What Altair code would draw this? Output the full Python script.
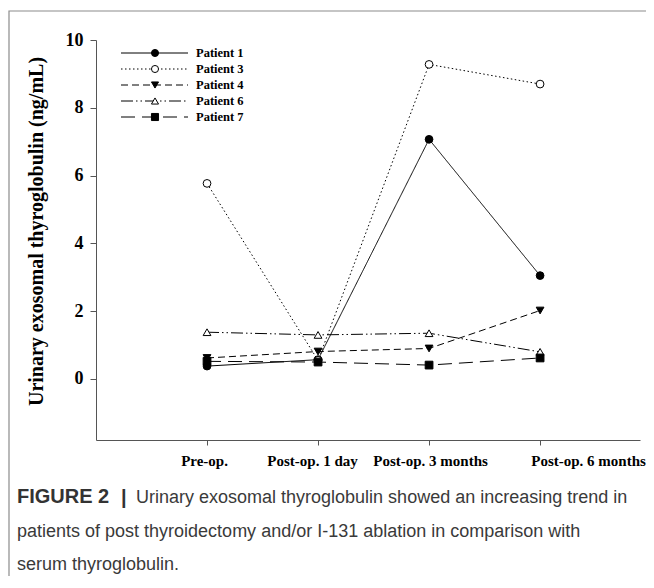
import json
import altair as alt
import pandas as pd

stages = ["Pre-op.", "Post-op. 1 day", "Post-op. 3 months", "Post-op. 6 months"]
stage_pos = [1, 2, 3, 4]
patients = ["Patient 1", "Patient 3", "Patient 4", "Patient 6", "Patient 7"]
p1 = [0.38, 0.57, 7.07, 3.05]
p3 = [5.77, 0.55, 9.28, 8.70]
p4 = [0.62, 0.81, 0.90, 2.02]
p6 = [1.38, 1.30, 1.35, 0.80]
p7 = [0.52, 0.50, 0.41, 0.62]
series = [p1, p3, p4, p6, p7]

dashes = [[1, 0], [1.5, 2.5], [7, 4], [12, 3, 1.5, 3, 1.5, 3], [14, 7]]
shapes = ["circle", "circle", "triangle-down", "triangle-up", "square"]
fills = ["black", "white", "black", "white", "black"]

caption_bold = "FIGURE 2"
caption_bar = "|"
caption_lines = [
    "Urinary exosomal thyroglobulin showed an increasing trend in",
    "patients of post thyroidectomy and/or I-131 ablation in comparison with",
    "serum thyroglobulin.",
]

rows = []
for name, vals in zip(patients, series):
    for pos, v in zip(stage_pos, vals):
        rows.append({"patient": name, "stage": pos, "value": v})
df = pd.DataFrame(rows)
df_leg = pd.DataFrame({"patient": patients, "row": list(range(len(patients)))})

label_expr = json.dumps(stages) + "[datum.value - 1]"
label_shift = {
    "condition": [
        {"test": "datum.value == 1", "value": -3},
        {"test": "datum.value == 2", "value": -6},
        {"test": "datum.value == 3", "value": 1},
    ],
    "value": 48,
}

dash_scale = alt.Scale(domain=patients, range=dashes)
shape_scale = alt.Scale(domain=patients, range=shapes)
fill_scale = alt.Scale(domain=patients, range=fills)

x_enc = alt.X(
    "stage:Q",
    scale=alt.Scale(domain=[0, 4.9], nice=False, zero=False),
    axis=alt.Axis(
        values=stage_pos, labelExpr=label_expr, title=None, grid=False,
        tickSize=5, labelPadding=8, labelFontSize=15, labelOffset=label_shift,
    ),
)
y_scale = alt.Scale(domain=[-1.8, 10], nice=False, zero=False)
y_axis = alt.Axis(
    values=[0, 2, 4, 6, 8, 10], title="Urinary exosomal thyroglobulin (ng/mL)",
    grid=False, tickSize=6, labelPadding=7, labelFontSize=18,
    titleFontSize=20, titleX=-50, titleY=191,
)
y_enc = alt.Y("value:Q", scale=y_scale, axis=y_axis)

lines = alt.Chart(df).mark_line(color="black", strokeWidth=1).encode(
    x=x_enc, y=y_enc,
    strokeDash=alt.StrokeDash("patient:N", scale=dash_scale, legend=None),
)
points = alt.Chart(df).mark_point(filled=True, stroke="black", strokeWidth=1, size=60, opacity=1).encode(
    x=x_enc, y=y_enc,
    shape=alt.Shape("patient:N", scale=shape_scale, legend=None),
    fill=alt.Fill("patient:N", scale=fill_scale, legend=None),
)
main = alt.layer(lines, points)

leg_y = alt.Y("row:Q", scale=alt.Scale(domain=[0, 4], range=[13, 77]), axis=None)
leg_rule = alt.Chart(df_leg).mark_rule(color="black", strokeWidth=1).encode(
    x=alt.value(25), x2=alt.value(92), y=leg_y,
    strokeDash=alt.StrokeDash("patient:N", scale=dash_scale, legend=None),
)
leg_pts = alt.Chart(df_leg).mark_point(filled=True, stroke="black", strokeWidth=1, size=50, opacity=1).encode(
    x=alt.value(59), y=leg_y,
    shape=alt.Shape("patient:N", scale=shape_scale, legend=None),
    fill=alt.Fill("patient:N", scale=fill_scale, legend=None),
)
leg_txt = alt.Chart(df_leg).mark_text(
    align="left", baseline="middle", font="Liberation Serif", fontWeight="bold", fontSize=12.5, color="black"
).encode(x=alt.value(100), y=leg_y, text="patient:N")
legend = alt.layer(leg_rule, leg_pts, leg_txt)

one = pd.DataFrame({"a": [0]})
frame = alt.Chart(one).mark_rect(fillOpacity=0, stroke="#8c8c8c", strokeWidth=1.2).encode(
    x=alt.value(-87), x2=alt.value(700), y=alt.value(-29), y2=alt.value(700)
)

cap_layers = [
    alt.Chart(one).mark_text(
        align="left", baseline="alphabetic", font="Liberation Sans", fontWeight="bold",
        fontSize=20, color="#333333"
    ).encode(x=alt.value(-79), y=alt.value(463), text=alt.value(caption_bold)),
    alt.Chart(one).mark_text(
        align="left", baseline="alphabetic", font="Liberation Sans", fontWeight="bold",
        fontSize=20, color="#333333"
    ).encode(x=alt.value(25), y=alt.value(464), text=alt.value(caption_bar)),
]
cap_y = [463, 497, 530]
cap_x = [40, -79, -79]
for line, yy, xx in zip(caption_lines, cap_y, cap_x):
    cap_layers.append(
        alt.Chart(one).mark_text(
            align="left", baseline="alphabetic", font="Liberation Sans",
            fontSize=18, color="#3a3a3a"
        ).encode(x=alt.value(xx), y=alt.value(yy), text=alt.value(line))
    )

chart = alt.layer(frame, main, legend, *cap_layers).resolve_scale(y="independent").properties(
    width=544, height=400,
    autosize=alt.AutoSizeParams(type="none"),
    padding={"left": 88, "top": 32, "right": 6, "bottom": 136},
    background="white",
).configure_view(stroke=None).configure_axis(
    domainColor="#555555", tickColor="#555555", domainWidth=1, tickWidth=1,
    labelFont="Liberation Serif", labelFontWeight="bold", labelColor="black",
    titleFont="Liberation Serif", titleFontWeight="bold", titleColor="black",
)

chart.save("out.html", embed_options={"renderer": "svg", "actions": False})
